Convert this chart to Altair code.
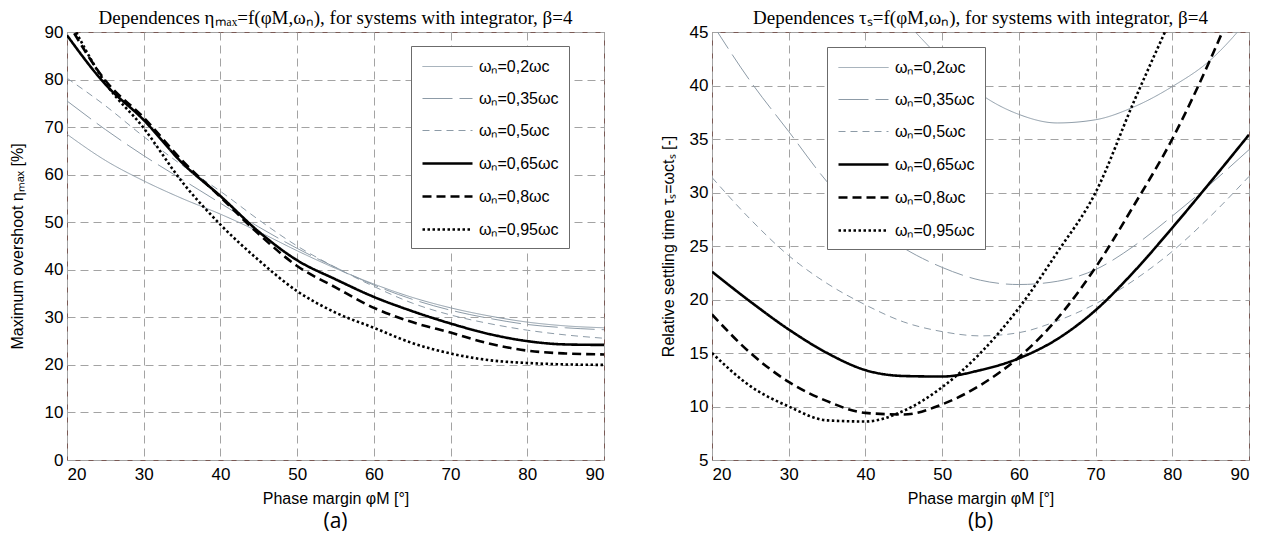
import altair as alt
import pandas as pd

labels = ["ωₙ=0,2ωc", "ωₙ=0,35ωc", "ωₙ=0,5ωc", "ωₙ=0,65ωc", "ωₙ=0,8ωc", "ωₙ=0,95ωc"]
colors = ["#8d9ba7", "#8d9ba7", "#8d9ba7", "#000000", "#000000", "#000000"]
dashes = [[1, 0], [30, 7], [7, 5], [1, 0], [9, 5], [2.5, 2.5]]
widths = [1, 1, 1, 2.6, 2.6, 2.6]

phi = [20, 25, 30, 35, 40, 45, 50, 55, 60, 65, 70, 75, 80, 85, 90]

# (a) maximum overshoot eta_max [%]
eta_02 = [68.5, 63.0, 58.7, 55.0, 51.7, 48.0, 44.0, 40.3, 37.0, 34.2, 32.0, 30.3, 29.0, 28.2, 27.8]
eta_035 = [75.5, 69.5, 64.0, 59.0, 54.0, 49.0, 44.5, 40.5, 36.8, 33.8, 31.5, 29.8, 28.5, 27.8, 27.4]
eta_05 = [80.3, 74.5, 68.0, 62.0, 56.5, 50.5, 45.0, 40.5, 36.5, 33.0, 30.5, 28.7, 27.3, 26.3, 25.6]
eta_065 = [89.3, 79.0, 71.5, 62.5, 55.5, 48.0, 42.0, 38.0, 34.3, 31.3, 28.7, 26.5, 25.0, 24.3, 24.2]
eta_08 = [92.3, 79.8, 72.0, 63.0, 55.3, 47.5, 40.8, 36.3, 32.0, 29.0, 26.8, 24.5, 23.0, 22.4, 22.2]
eta_095 = [93.7, 79.3, 69.8, 58.5, 49.5, 42.0, 35.5, 31.0, 27.8, 24.6, 22.4, 21.0, 20.4, 20.1, 20.0]

# (b) relative settling time tau_s [-]
phi_02b = [46.5, 50, 55, 60, 65, 70, 75, 80, 85, 88.5, 90]
tau_02 = [45.0, 42.4, 39.2, 37.3, 36.5, 36.8, 38.0, 39.9, 42.4, 45.0, 46.3]
tau_035 = [45.8, 40.4, 35.7, 31.0, 27.3, 24.8, 23.0, 21.8, 21.4, 21.7, 22.8, 25.0, 27.8, 30.8, 34.0]
tau_05 = [31.4, 27.5, 24.1, 21.5, 19.5, 17.9, 17.0, 16.6, 16.9, 18.0, 19.6, 21.8, 24.5, 27.8, 31.5]
tau_065 = [22.6, 19.8, 17.2, 15.0, 13.4, 12.85, 12.8, 13.4, 14.5, 16.3, 19.0, 22.6, 26.7, 31.0, 35.4]
tau_08 = [18.6, 15.0, 12.3, 10.5, 9.4, 9.25, 10.2, 12.0, 14.6, 18.2, 23.0, 28.8, 35.0, 42.5, 51.0]
phi_095b = [20, 25, 30, 35, 40, 45, 50, 55, 60, 65, 70, 75, 80]
tau_095 = [15.0, 11.9, 10.0, 8.7, 8.6, 9.6, 11.8, 15.0, 19.2, 24.4, 30.0, 38.5, 46.5]


def frame(pairs):
    rows = []
    for lab, xs, ys in pairs:
        for k, (a, b) in enumerate(zip(xs, ys)):
            rows.append({"series": lab, "phi": a, "val": b, "k": k})
    return pd.DataFrame(rows)


df_a = frame([
    (labels[0], phi, eta_02), (labels[1], phi, eta_035), (labels[2], phi, eta_05),
    (labels[3], phi, eta_065), (labels[4], phi, eta_08), (labels[5], phi, eta_095),
])
df_b = frame([
    (labels[0], phi_02b, tau_02), (labels[1], phi, tau_035), (labels[2], phi, tau_05),
    (labels[3], phi, tau_065), (labels[4], phi, tau_08), (labels[5], phi_095b, tau_095),
])

W, H = 537, 428


def panel(df, ydom, yticks, ytitle, ttl, lx, ly, caption, title_pad):
    leg = alt.Legend(
        title=None, orient="none", legendX=lx, legendY=ly,
        symbolType="M-1,0H4", symbolSize=400,
        labelFont="Liberation Sans", labelFontSize=16, labelColor="black",
        rowPadding=13, padding=10, labelOffset=35,
        strokeColor="#6b6b6b", fillColor="white", cornerRadius=0,
    )
    lines = alt.Chart(df).mark_line(clip=True, interpolate="monotone", strokeCap="butt").encode(
        x=alt.X("phi:Q", scale=alt.Scale(domain=[20, 90], nice=False),
                axis=alt.Axis(values=list(range(20, 91, 10)), title="Phase margin φM [°]",
                              labelPadding=6, titlePadding=8)),
        y=alt.Y("val:Q", scale=alt.Scale(domain=ydom, nice=False),
                axis=alt.Axis(values=yticks, title=ytitle, labelPadding=4, titlePadding=title_pad)),
        color=alt.Color("series:N", sort=labels,
                        scale=alt.Scale(type="ordinal", domain=labels, range=colors), legend=leg),
        strokeDash=alt.StrokeDash("series:N", sort=labels,
                                  scale=alt.Scale(type="ordinal", domain=labels, range=dashes), legend=leg),
        strokeWidth=alt.StrokeWidth("series:N", sort=labels,
                                    scale=alt.Scale(type="ordinal", domain=labels, range=widths), legend=leg),
        order="k:Q",
    )
    cap = alt.Chart(pd.DataFrame({"t": [caption]})).mark_text(
        font="Open Sans", fontSize=21, baseline="middle", align="center", color="black"
    ).encode(text="t:N", x=alt.value(W / 2), y=alt.value(H + 62))
    return alt.layer(lines, cap).properties(
        width=W, height=H,
        title=alt.Title(ttl, font="Liberation Serif", fontSize=19, fontWeight="normal", offset=-5, color="black"),
    )


left = panel(df_a, [0, 90], list(range(0, 91, 10)), "Maximum overshoot  ηₘₐₓ [%]",
             "Dependences ηₘₐₓ=f(φM,ωₙ), for systems with integrator, β=4", 344, 14, "(a)", 19)
right = panel(df_b, [5, 45], list(range(5, 46, 5)), "Relative settling time  τₛ=ωctₛ [-]",
              "Dependences τₛ=f(φM,ωₙ), for systems with integrator, β=4", 115, 15, "(b)", 13)

chart = alt.hconcat(left, right, spacing=54).resolve_scale(
    color="independent", strokeDash="independent", strokeWidth="independent"
).resolve_legend(
    color="independent", strokeDash="independent", strokeWidth="independent"
).properties(padding=0).configure_view(
    stroke="#7a5a55", strokeWidth=1
).configure_axis(
    grid=True, gridDash=[8, 5], gridColor="#a3a3a3", gridWidth=1, domain=False, ticks=False,
    labelFont="Liberation Sans", labelFontSize=17, labelColor="black",
    titleFont="Liberation Sans", titleFontSize=16, titleFontWeight="normal", titleColor="black",
)

chart.save("out.html", embed_options={"renderer": "svg", "actions": False})
